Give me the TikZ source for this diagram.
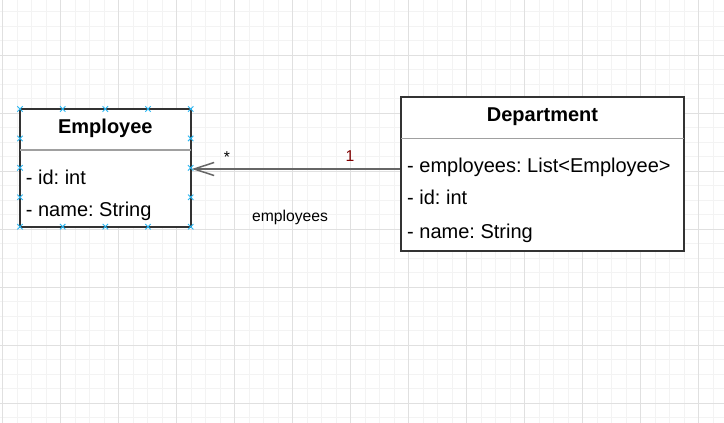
\documentclass[tikz,border=0pt]{standalone}
\usepackage{fontspec}
\setmainfont{Liberation Sans}
\usetikzlibrary{arrows.meta,shapes.misc}
\frenchspacing
\definecolor{gridminor}{HTML}{F3F3F3}
\definecolor{gridmajor}{HTML}{E0E0E0}
\definecolor{boxline}{HTML}{333333}
\definecolor{divline}{HTML}{A0A0A0}
\definecolor{arrowline}{HTML}{666666}
\definecolor{mult}{HTML}{800000}
\definecolor{handle}{HTML}{29B6F2}
\tikzset{
 umlbox/.style={draw=boxline, line width=2pt, fill=white, rectangle, inner sep=0pt},
 titletext/.style={font=\fontsize{20}{24}\selectfont\bfseries, anchor=base, inner sep=0pt},
 attrtext/.style={font=\fontsize{20}{24}\selectfont, anchor=base west, inner sep=0pt},
 divider/.style={draw=divline, line width=1.5pt, shorten <=1pt, shorten >=1pt},
 assoc/.style={draw=arrowline, line width=1.5pt, -{Straight Barb[length=20pt,width=13pt]}},
 smalllabel/.style={font=\fontsize{15.7}{19}\selectfont, anchor=base, inner sep=0pt},
 handlemark/.style={cross out, draw=handle, line width=0.9pt, minimum size=4.5pt, inner sep=0pt},
 gridminorline/.style={draw=gridminor, line width=1pt},
 gridmajorline/.style={draw=gridmajor, line width=1pt},
}
\begin{document}
\begin{tikzpicture}[x=1pt,y=-1pt]
\useasboundingbox (0,0) rectangle (724,423);
\fill[white] (0,0) rectangle (724,423);
% grid
\foreach \i in {0,...,49} {\draw[gridminorline] ({2.5+14.5*\i},0) -- ({2.5+14.5*\i},423);}
\foreach \i in {0,...,28} {\draw[gridminorline] (0,{11.5+14.5*\i}) -- (724,{11.5+14.5*\i});}
\foreach \i in {0,...,12} {\draw[gridmajorline] ({2.5+58*\i},0) -- ({2.5+58*\i},423);}
\foreach \i in {0,...,6} {\draw[gridmajorline] (0,{55+58*\i}) -- (724,{55+58*\i});}

% boxes
\node[umlbox, minimum width=170.7pt, minimum height=117.7pt] (emp) at (105.35,167.85) {};
\node[umlbox, minimum width=283pt, minimum height=153.7pt] (dept) at (542.5,174.15) {};

% Employee class
\node[titletext] (empTitle) at (105.35,133) {Employee};
\coordinate (empDiv) at (0,150);
\draw[divider] (emp.west |- empDiv) -- (emp.east |- empDiv);
\node[attrtext] (empId) at (25.7,184) {- id: int};
\node[attrtext] (empName) at (25.7,216) {- name: String};

% Department class
\node[titletext] (deptTitle) at (542.5,121.7) {Department};
\coordinate (deptDiv) at (0,138.3);
\draw[divider] (dept.west |- deptDiv) -- (dept.east |- deptDiv);
\node[attrtext] (deptEmps) at (407,172.7) {- employees: List<Employee>};
\node[attrtext] (deptId) at (407,204) {- id: int};
\node[attrtext] (deptName) at (407,238.3) {- name: String};

% association
\coordinate (assocY) at (0,169);
\draw[assoc] (dept.west |- assocY) -- (emp.east |- assocY);
\node[smalllabel] (multStar) at (227,162) {*};
\node[smalllabel, text=mult] (multOne) at (350,161) {1};
\node[smalllabel] (roleName) at (290,221) {employees};

% selection handles on Employee
\foreach \x [count=\k] in {20,62.675,105.35,148.025,190.7} {
  \node[handlemark] (ht\k) at (\x,109) {};
  \node[handlemark] (hb\k) at (\x,226.7) {};
}
\foreach \y [count=\k] in {138.425,167.85,197.275} {
  \node[handlemark] (hl\k) at (20,\y) {};
  \node[handlemark] (hr\k) at (190.7,\y) {};
}
\end{tikzpicture}
\end{document}
